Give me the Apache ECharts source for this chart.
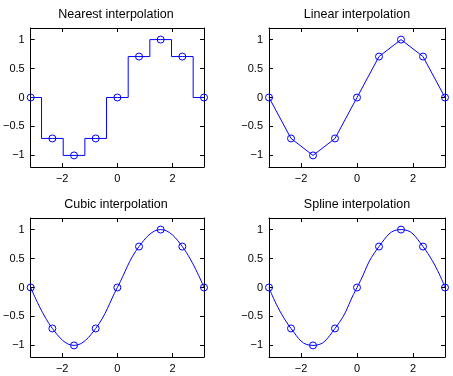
<!DOCTYPE html>
<html>
<head>
<meta charset="utf-8">
<script src="https://cdn.jsdelivr.net/npm/echarts@6/dist/echarts.min.js"></script>
<style>
  html, body { margin: 0; padding: 0; background: #fff; }
  #myChart { width: 453px; height: 376px; }
</style>
</head>
<body>
<div id="myChart"></div>
<script>
// sample points (x = -pi .. pi in steps of pi/4, y = sin x)
var xs = [-3.1416, -2.3562, -1.5708, -0.7854, 0, 0.7854, 1.5708, 2.3562, 3.1416];
var ys = [0, -0.7071, -1, -0.7071, 0, 0.7071, 1, 0.7071, 0];
var xTicks = [-2, 0, 2];
var yTicks = [-1, -0.5, 0, 0.5, 1];
var titles = ['Nearest interpolation', 'Linear interpolation', 'Cubic interpolation', 'Spline interpolation'];
// how each panel draws the line between samples
var kinds = ['nearest', 'linear', 'cubic', 'spline'];

var grids = [
  {left: 28, top: 28, width: 176, height: 139},
  {left: 269, top: 28, width: 176, height: 139},
  {left: 28, top: 218, width: 176, height: 139},
  {left: 269, top: 218, width: 176, height: 139}
];

var font = 'Liberation Sans, Arial, Helvetica, sans-serif';
function fmt(v) { return String(v).replace('-', '\u2212'); }

var pts = xs.map(function (x, i) { return [x, ys[i]]; });

var xAxes = [], yAxes = [], series = [], titleList = [];
grids.forEach(function (g, i) {
  titleList.push({
    text: titles[i],
    left: g.left + g.width / 2,
    top: g.top - 20,
    textAlign: 'center',
    padding: 0,
    textStyle: {fontFamily: font, fontSize: 12.5, fontWeight: 'normal', color: '#000'}
  });
  ['bottom', 'top'].forEach(function (pos) {
    xAxes.push({
      type: 'value', gridIndex: i, position: pos, min: -3.1416, max: 3.1416,
      axisLine: {onZero: false, lineStyle: {color: '#000', width: 1}},
      axisTick: {inside: true, length: 4, customValues: xTicks, lineStyle: {color: '#000'}},
      axisLabel: {show: pos === 'bottom', customValues: xTicks, margin: 6, formatter: fmt,
                  fontFamily: font, fontSize: 11, color: '#000'},
      splitLine: {show: false}
    });
  });
  ['left', 'right'].forEach(function (pos) {
    yAxes.push({
      type: 'value', gridIndex: i, position: pos, min: -1.2, max: 1.2,
      axisLine: {onZero: false, lineStyle: {color: '#000', width: 1}},
      axisTick: {inside: true, length: 4, customValues: yTicks, lineStyle: {color: '#000'}},
      axisLabel: {show: pos === 'left', customValues: yTicks, margin: 6, formatter: fmt,
                  fontFamily: font, fontSize: 11, color: '#000'},
      splitLine: {show: false}
    });
  });
  var s = {
    type: 'line', xAxisIndex: i * 2, yAxisIndex: i * 2, data: pts,
    symbol: 'circle', symbolSize: 7, showAllSymbol: true, clip: false,
    lineStyle: {color: '#0000ff', width: 1},
    itemStyle: {color: 'rgba(0,0,0,0)', borderColor: '#0000ff', borderWidth: 1}
  };
  if (kinds[i] === 'nearest') s.step = 'middle';
  if (kinds[i] === 'cubic') s.smooth = 0.4;
  if (kinds[i] === 'spline') s.smooth = 0.5;
  series.push(s);
});

var myChart = echarts.init(document.getElementById('myChart'));
myChart.setOption({
  animation: false,
  backgroundColor: '#fff',
  title: titleList,
  grid: grids,
  xAxis: xAxes,
  yAxis: yAxes,
  series: series
});
</script>
</body>
</html>
